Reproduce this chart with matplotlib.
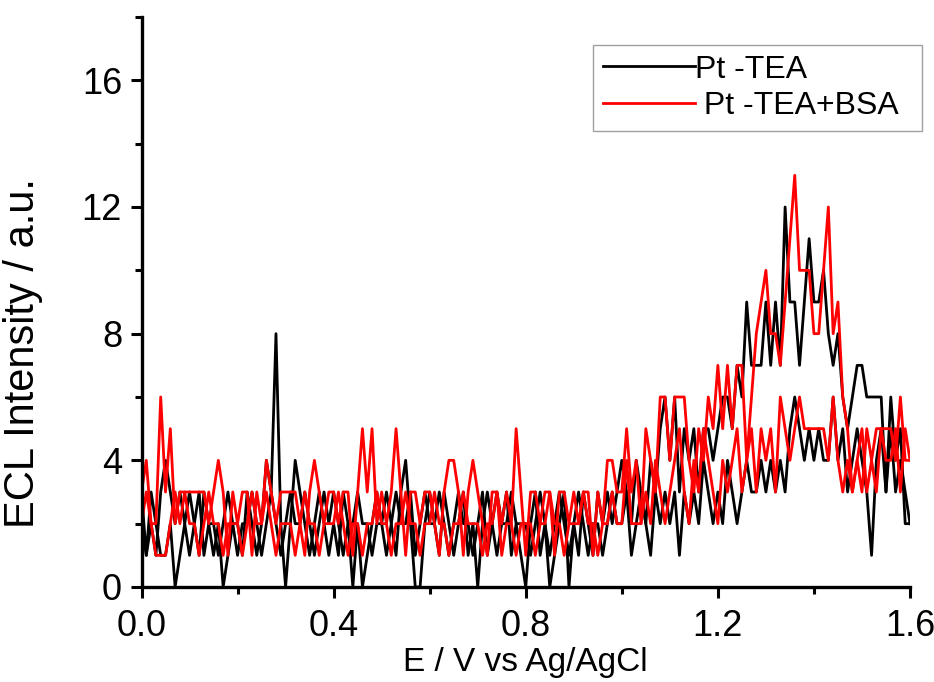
import numpy as np
import matplotlib
matplotlib.use("Agg")
from matplotlib import pyplot as plt
from matplotlib.ticker import MultipleLocator

# potential axis, 0.00 ... 1.60 V in 0.01 V steps
potential = np.round(np.arange(0, 161) * 0.01, 2)

# Pt - TEA, two sweeps
tea_a = [3, 1, 3, 2, 1, 1, 2, 0, 1, 2,
         1, 2, 3, 1, 2, 1, 2, 0, 1, 2,
         2, 1, 3, 2, 1, 2, 4, 3, 8, 2,
         0, 2, 4, 3, 2, 1, 2, 3, 2, 1,
         2, 1, 3, 2, 0, 2, 0, 1, 2, 3,
         2, 3, 2, 1, 3, 4, 2, 0, 0, 2,
         3, 2, 1, 3, 2, 1, 2, 3, 1, 2,
         0, 2, 3, 2, 1, 2, 3, 1, 2, 1,
         0, 2, 3, 1, 2, 0, 1, 2, 3, 0,
         2, 1, 3, 2, 1, 3, 2, 3, 2, 3,
         4, 3, 2, 4, 3, 2, 4, 3, 5, 6,
         4, 6, 3, 5, 4, 5, 3, 5, 5, 4,
         5, 6, 6, 5, 7, 6, 9, 7, 7, 7,
         9, 7, 9, 7, 12, 9, 9, 7, 9, 11,
         9, 9, 10, 8, 7, 8, 6, 5, 6, 7,
         7, 6, 6, 6, 6, 3, 6, 4, 5, 2, 2]
tea_b = [2, 1, 2, 1, 3, 4, 3, 2, 3, 2,
         3, 2, 1, 3, 2, 2, 1, 2, 3, 2,
         1, 2, 2, 3, 2, 1, 2, 3, 2, 1,
         2, 3, 2, 2, 3, 2, 1, 2, 3, 2,
         3, 2, 1, 2, 2, 3, 2, 2, 1, 2,
         2, 1, 2, 3, 2, 2, 3, 1, 2, 3,
         2, 2, 3, 2, 1, 2, 3, 2, 2, 1,
         2, 3, 1, 2, 3, 2, 2, 3, 2, 2,
         2, 1, 2, 3, 2, 1, 2, 3, 2, 1,
         2, 3, 2, 1, 2, 2, 1, 2, 3, 2,
         2, 3, 1, 2, 3, 2, 1, 3, 2, 3,
         2, 3, 1, 3, 2, 3, 2, 4, 3, 2,
         3, 2, 4, 3, 2, 3, 4, 3, 3, 4,
         3, 4, 3, 4, 3, 5, 6, 5, 4, 5,
         4, 5, 4, 4, 6, 4, 5, 3, 4, 5,
         4, 3, 1, 4, 5, 3, 5, 3, 4, 3, 2]

# Pt - TEA + BSA, two sweeps
bsa_a = [3, 4, 2, 2, 6, 3, 5, 2, 3, 3,
         3, 3, 3, 3, 2, 3, 4, 3, 1, 3,
         2, 3, 3, 1, 3, 2, 4, 3, 2, 3,
         3, 3, 3, 2, 1, 3, 4, 3, 2, 3,
         3, 2, 3, 3, 1, 3, 5, 3, 5, 2,
         3, 2, 3, 5, 3, 1, 3, 3, 2, 3,
         3, 2, 1, 3, 4, 4, 3, 1, 3, 4,
         3, 2, 1, 3, 3, 2, 3, 2, 5, 3,
         1, 3, 3, 2, 3, 3, 1, 3, 3, 2,
         3, 2, 3, 3, 1, 3, 2, 4, 4, 3,
         3, 5, 3, 4, 2, 5, 4, 3, 6, 6,
         4, 6, 6, 6, 4, 3, 5, 4, 6, 5,
         7, 5, 7, 5, 7, 7, 4, 6, 8, 9,
         10, 8, 8, 7, 9, 11, 13, 10, 10, 10,
         8, 8, 10, 12, 8, 9, 6, 5, 3, 4,
         5, 3, 4, 3, 5, 4, 4, 5, 3, 5, 4]
bsa_b = [2, 3, 2, 1, 1, 1, 2, 3, 2, 3,
         2, 2, 1, 2, 3, 2, 2, 1, 2, 2,
         2, 1, 2, 3, 2, 2, 3, 2, 1, 2,
         2, 2, 1, 2, 3, 2, 2, 1, 2, 2,
         2, 3, 2, 1, 2, 2, 1, 2, 2, 3,
         2, 2, 1, 2, 2, 3, 2, 2, 1, 2,
         2, 3, 2, 2, 1, 2, 2, 3, 2, 2,
         2, 1, 2, 2, 3, 1, 2, 2, 1, 2,
         2, 2, 1, 2, 2, 3, 2, 2, 1, 2,
         2, 2, 3, 2, 2, 1, 2, 2, 3, 2,
         2, 4, 2, 2, 2, 3, 2, 4, 3, 2,
         3, 4, 5, 3, 2, 4, 3, 5, 4, 3,
         2, 4, 3, 4, 5, 3, 4, 5, 3, 5,
         4, 5, 3, 6, 5, 4, 5, 6, 5, 5,
         5, 5, 5, 4, 6, 4, 3, 4, 3, 4,
         3, 5, 4, 5, 5, 5, 5, 4, 6, 4, 4]

labels = ["Pt -TEA", " Pt -TEA+BSA"]
colors = ["black", "red"]

plt.rcParams["font.family"] = ["Liberation Sans", "DejaVu Sans"]

fig = plt.figure(figsize=(9.34, 6.82), dpi=100)
ax = fig.add_axes([141.5 / 934, 1 - 587 / 682, (910 - 141.5) / 934, (587 - 17) / 682])

l1, = ax.plot(potential, tea_a, color=colors[0], lw=2.0)
ax.plot(potential, tea_b, color=colors[0], lw=2.0)
l2, = ax.plot(potential, bsa_a, color=colors[1], lw=2.0)
ax.plot(potential, bsa_b, color=colors[1], lw=2.0)

ax.set_xlim(0, 1.6)
ax.set_ylim(0, 18)
ax.xaxis.set_major_locator(MultipleLocator(0.4))
ax.xaxis.set_minor_locator(MultipleLocator(0.2))
ax.yaxis.set_major_locator(MultipleLocator(4))
ax.yaxis.set_minor_locator(MultipleLocator(2))
ax.set_xticks(np.arange(0, 1.61, 0.4))
ax.set_xticklabels(["0.0", "0.4", "0.8", "1.2", "1.6"])
ax.spines["top"].set_visible(False)
ax.spines["right"].set_visible(False)
for s in ["left", "bottom"]:
    ax.spines[s].set_linewidth(2.4)
ax.tick_params(which="major", direction="out", length=8, width=2.2, labelsize=26, pad=6)
ax.tick_params(which="minor", direction="out", length=5, width=2.2)
ax.tick_params(axis="x", pad=8)

ax.set_xlabel("E / V vs Ag/AgCl", fontsize=24, labelpad=2)
ax.set_ylabel("ECL Intensity / a.u.", fontsize=30)
ax.yaxis.set_label_coords(-0.128, 0.41)

leg = fig.legend([l1, l2], labels, loc="upper left",
                 bbox_to_anchor=(593 / 934, 1 - 45 / 682, 329 / 934, 0),
                 mode="expand",
                 fontsize=23, frameon=True, fancybox=False,
                 handlelength=2.9, handletextpad=0.0, borderpad=0.3,
                 labelspacing=0.2, borderaxespad=0)
leg.get_frame().set_edgecolor("#888888")
leg.get_frame().set_linewidth(1)

fig.savefig("out.png", dpi=100)
